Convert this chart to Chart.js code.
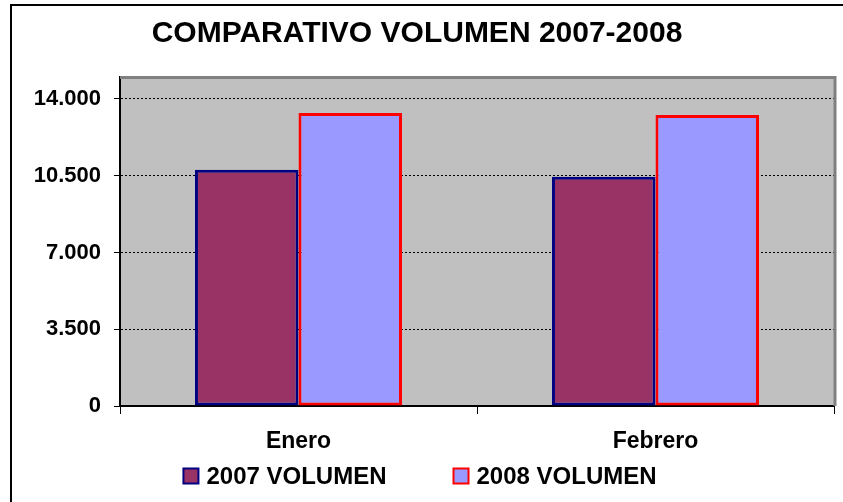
<!DOCTYPE html>
<html>
<head>
<meta charset="utf-8">
<script src="https://cdn.jsdelivr.net/npm/chart.js@4/dist/chart.umd.min.js"></script>
<style>
    body { margin: 0; background: #fff; }
    #wrap { width: 843px; height: 502px; position: relative; }
</style>
</head>
<body>
<div id="wrap"><canvas id="chart"></canvas></div>
<script>
// ---- data ----
const categories = ['Enero', 'Febrero'];
const seriesLabels = ['2007 VOLUMEN', '2008 VOLUMEN'];
const volumen2007 = [10770, 10450];
const volumen2008 = [13360, 13270];
const yTicks = [0, 3500, 7000, 10500, 14000];

const FONT = "'Liberation Sans', Arial, sans-serif";

function fmt(v) {
    return String(v).replace(/\B(?=(\d{3})+(?!\d))/g, '.');
}

// grey plot background, plot frame and outer chart border
const frame = {
    id: 'frame',
    beforeDraw(chart) {
        const { ctx, chartArea: a } = chart;
        ctx.save();
        ctx.fillStyle = '#c0c0c0';
        ctx.fillRect(a.left, a.top, a.right - a.left, a.bottom - a.top);
        ctx.restore();
    },
    afterDatasetsDraw(chart) {
        const { ctx, chartArea: a } = chart;
        ctx.save();
        ctx.strokeStyle = '#808080';
        ctx.lineWidth = 3;
        ctx.beginPath();
        ctx.moveTo(a.left, a.top + 0.5);
        ctx.lineTo(a.right + 1, a.top + 0.5);
        ctx.lineTo(a.right + 1, a.bottom);
        ctx.stroke();
        // outer border of the chart
        ctx.strokeStyle = '#000';
        ctx.lineWidth = 2;
        ctx.beginPath();
        ctx.moveTo(11, chart.height);
        ctx.lineTo(11, 5);
        ctx.lineTo(chart.width, 5);
        ctx.stroke();
        ctx.restore();
    }
};

// legend drawn under the x axis, Excel style spacing
const bottomLegend = {
    id: 'bottomLegend',
    afterDraw(chart) {
        const { ctx } = chart;
        const ds = chart.data.datasets;
        const box = 15, gap = 8, spacing = 67, cy = 476;
        ctx.save();
        ctx.font = 'bold 24px ' + FONT;
        const widths = ds.map(d => ctx.measureText(d.label).width);
        const total = widths.reduce((s, w) => s + box + gap + w, 0) + spacing * (ds.length - 1);
        let x = 420 - total / 2;
        ds.forEach((d, i) => {
            ctx.fillStyle = d.backgroundColor;
            ctx.fillRect(x, cy - box / 2, box, box);
            ctx.strokeStyle = d.borderColor;
            ctx.lineWidth = 2;
            ctx.strokeRect(x, cy - box / 2, box, box);
            ctx.fillStyle = '#000';
            ctx.textBaseline = 'middle';
            ctx.textAlign = 'left';
            ctx.fillText(d.label, x + box + gap, cy + 1);
            x += box + gap + widths[i] + spacing;
        });
        ctx.restore();
    }
};

new Chart(document.getElementById('chart').getContext('2d'), {
    type: 'bar',
    data: {
        labels: categories,
        datasets: [
            { label: seriesLabels[0], data: volumen2007, backgroundColor: '#993366', borderColor: '#000080',
              borderWidth: 3, borderSkipped: false },
            { label: seriesLabels[1], data: volumen2008, backgroundColor: '#9999ff', borderColor: '#ff0000',
              borderWidth: 3, borderSkipped: false }
        ]
    },
    options: {
        responsive: true, maintainAspectRatio: false, animation: false,
        categoryPercentage: 0.58, barPercentage: 1,
        layout: { padding: { left: 0, right: 9, top: 5, bottom: 41 } },
        plugins: {
            legend: { display: false },
            tooltip: { enabled: false },
            title: {
                display: true, text: 'COMPARATIVO VOLUMEN 2007-2008', color: '#000',
                font: { family: FONT, size: 30, weight: 'bold' },
                padding: { top: 11, bottom: 25 }
            }
        },
        scales: {
            x: {
                grid: { offset: true, drawOnChartArea: false, color: '#000', tickLength: 8, lineWidth: 1 },
                border: { color: '#000', width: 2 },
                ticks: { color: '#000', padding: 14, font: { family: FONT, size: 23, weight: 'bold' } },
                afterFit: s => { s.height = 55; }
            },
            y: {
                min: 0, max: 15000,
                afterBuildTicks: s => { s.ticks = yTicks.map(v => ({ value: v })); },
                grid: { color: '#000', lineWidth: 1, tickLength: 6 },
                border: { color: '#000', width: 2, dash: [2, 2] },
                ticks: { color: '#000', padding: 13, callback: v => fmt(v),
                         font: { family: FONT, size: 22, weight: 'bold' } },
                afterFit: s => { s.width = 120; }
            }
        }
    },
    plugins: [frame, bottomLegend]
});
</script>
</body>
</html>
